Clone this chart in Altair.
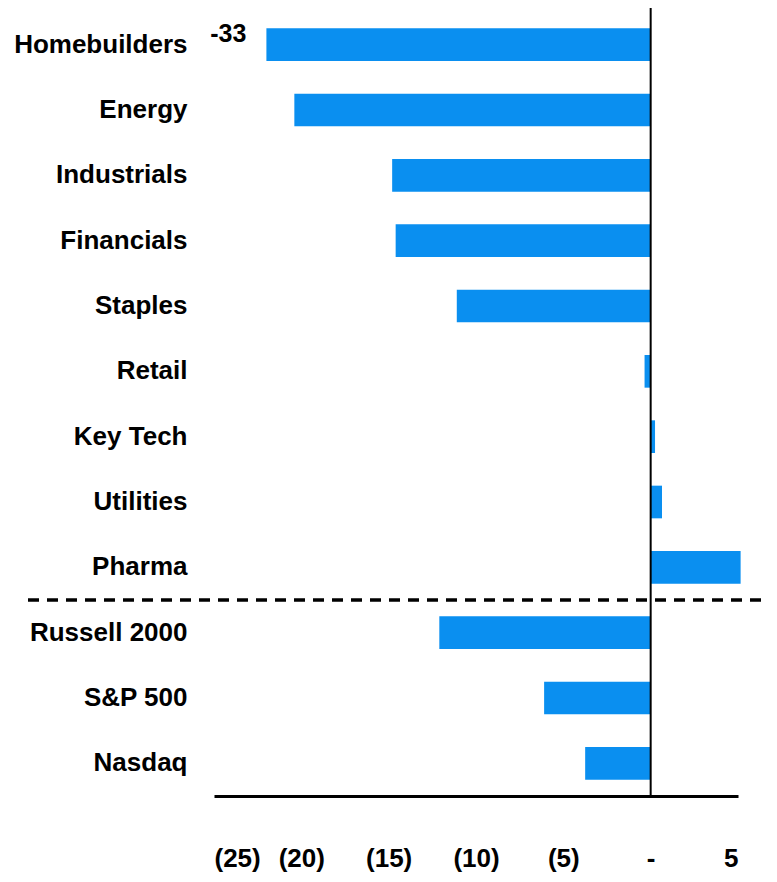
import altair as alt
import pandas as pd

categories = ["Homebuilders", "Energy", "Industrials", "Financials", "Staples", "Retail",
              "Key Tech", "Utilities", "Pharma", "Russell 2000", "S&P 500", "Nasdaq"]
# bar lengths as drawn (Homebuilders bar is cut off; its true value is shown as a label)
values = [-22.0, -20.4, -14.8, -14.6, -11.1, -0.35, 0.25, 0.65, 5.15, -12.1, -6.1, -3.75]
bar_labels = ["-33", "", "", "", "", "", "", "", "", "", "", ""]
tick_values = [-25, -20, -15, -10, -5, 0, 5]

df = pd.DataFrame({"cat": categories, "val": values, "lab": bar_labels})

FONT = "Liberation Sans"
W, H = 524, 784
PAD_IN = 0.5
STEP = H / len(categories)

x_scale = alt.Scale(domain=[-25, 5], nice=False, zero=False)
y_scale = alt.Scale(domain=categories, paddingInner=PAD_IN, paddingOuter=0.25)

bars = alt.Chart(df).mark_bar(color="#0A8FF0").encode(
    x=alt.X("val:Q", scale=x_scale, axis=alt.Axis(
        values=tick_values, title=None, grid=False, ticks=False,
        domain=True, domainColor="black", domainWidth=3,
        labelExpr="datum.value < 0 ? '(' + (-datum.value) + ')' : (datum.value == 0 ? '-' : '' + datum.value)",
        labelFont=FONT, labelFontSize=26, labelFontWeight="bold", labelColor="black",
        labelPadding=49)),
    x2=alt.datum(0),
    y=alt.Y("cat:N", scale=y_scale, sort=categories, axis=alt.Axis(
        title=None, ticks=False, domain=False, labelFont=FONT, labelFontSize=26,
        labelFontWeight="bold", labelColor="black", labelPadding=27, labelLimit=300)),
)

labels = alt.Chart(df).mark_text(align="right", baseline="middle", dx=-20, dy=-11,
                                  font=FONT, fontSize=25, fontWeight="bold", color="black").encode(
    x=alt.X("val:Q", scale=x_scale),
    y=alt.Y("cat:N", scale=y_scale, sort=categories),
    text="lab:N",
)

zero_line = alt.Chart(pd.DataFrame({"z": [0]})).mark_rule(color="black", strokeWidth=2).encode(
    x=alt.X("z:Q", scale=x_scale),
    y=alt.value(-7),
    y2=alt.value(H),
)

sep = alt.Chart(pd.DataFrame({"a": ["Russell 2000"]})).mark_rule(
    color="black", strokeWidth=3.5, strokeDash=[11, 8]).encode(
    y=alt.Y("a:N", scale=y_scale, sort=categories, bandPosition=0),
    yOffset=alt.value(-STEP * PAD_IN / 2),
    x=alt.value(-186),
    x2=alt.value(W + 40),
)

chart = alt.layer(bars, labels, zero_line, sep).properties(
    width=W, height=H,
    autosize=alt.AutoSizeParams(type="none"),
    padding={"left": 206, "top": 4, "right": 30, "bottom": 80},
).configure_view(stroke=None)

chart.save("out.html", embed_options={"renderer": "svg", "actions": False})
